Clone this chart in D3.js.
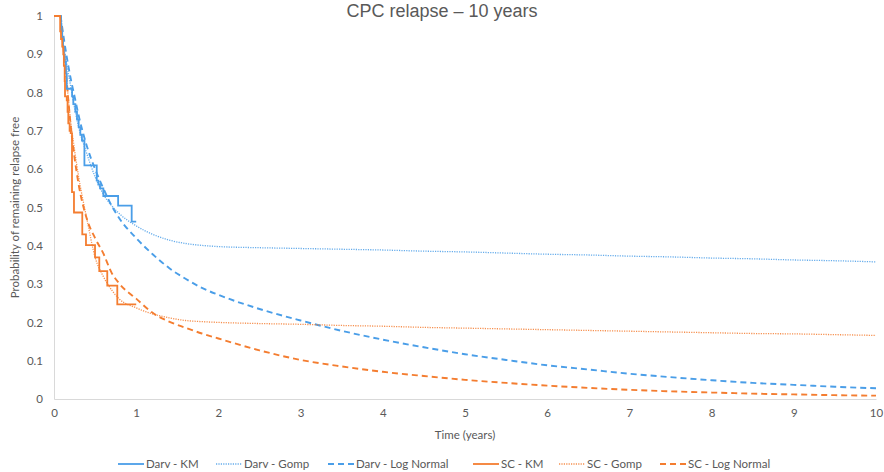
<!DOCTYPE html>
<html>
<head>
<meta charset="utf-8">
<script src="https://cdn.jsdelivr.net/npm/d3@7"></script>
<style>
  body { margin: 0; background: #fff; }
  svg { display: block; }
</style>
</head>
<body>
<div id="chart"></div>
<script>
// Kaplan-Meier steps (time in years, survival after the step)
const darvKmTime = [0.0, 0.085, 0.09, 0.10, 0.11, 0.12, 0.13, 0.145, 0.155, 0.22, 0.235, 0.26, 0.28, 0.30, 0.32, 0.34, 0.37, 0.52, 0.54, 0.56, 0.60, 0.78, 0.945, 1.0];
const darvKmSurv = [1.0, 0.98, 0.96, 0.94, 0.92, 0.90, 0.88, 0.85, 0.81, 0.79, 0.77, 0.75, 0.73, 0.71, 0.69, 0.675, 0.61, 0.57, 0.56, 0.55, 0.53, 0.505, 0.463, 0.463];
const scKmTime = [0.0, 0.075, 0.085, 0.10, 0.113, 0.12, 0.13, 0.134, 0.155, 0.165, 0.174, 0.19, 0.203, 0.219, 0.243, 0.344, 0.389, 0.499, 0.551, 0.648, 0.77, 1.0];
const scKmSurv = [1.0, 0.96, 0.94, 0.92, 0.90, 0.87, 0.83, 0.79, 0.78, 0.75, 0.72, 0.70, 0.694, 0.54, 0.487, 0.43, 0.402, 0.37, 0.334, 0.296, 0.247, 0.247];

// Fitted curves
const fitTime = [0.08, 0.1, 0.15, 0.2, 0.25, 0.3, 0.4, 0.5, 0.6, 0.7, 0.8, 1.0, 1.2, 1.4, 1.6, 1.8, 2.0, 2.5, 3.0, 3.5, 4.0, 4.5, 5.0, 5.5, 6.0, 6.5, 7.0, 7.5, 8.0, 8.5, 9.0, 9.5, 10.0];
const darvGomp = [1.0, 0.95, 0.88, 0.82, 0.76, 0.71, 0.64, 0.58, 0.535, 0.505, 0.483, 0.452, 0.43, 0.415, 0.406, 0.401, 0.398, 0.395, 0.393, 0.391, 0.389, 0.386, 0.384, 0.381, 0.378, 0.376, 0.373, 0.371, 0.368, 0.366, 0.363, 0.361, 0.358];
const darvLogN = [1.0, 0.97, 0.90, 0.84, 0.79, 0.74, 0.66, 0.60, 0.55, 0.505, 0.47, 0.42, 0.378, 0.342, 0.314, 0.29, 0.272, 0.235, 0.205, 0.178, 0.155, 0.135, 0.117, 0.102, 0.088, 0.077, 0.066, 0.057, 0.049, 0.042, 0.037, 0.032, 0.028];
const scGomp = [1.0, 0.95, 0.84, 0.73, 0.65, 0.58, 0.47, 0.37, 0.32, 0.285, 0.26, 0.238, 0.222, 0.212, 0.205, 0.202, 0.200, 0.197, 0.195, 0.192, 0.190, 0.187, 0.185, 0.183, 0.181, 0.179, 0.177, 0.175, 0.173, 0.171, 0.170, 0.168, 0.166];
const scLogN = [1.0, 0.95, 0.84, 0.72, 0.63, 0.56, 0.47, 0.42, 0.38, 0.33, 0.30, 0.262, 0.225, 0.202, 0.186, 0.171, 0.158, 0.127, 0.102, 0.085, 0.071, 0.060, 0.050, 0.042, 0.035, 0.029, 0.024, 0.020, 0.017, 0.014, 0.012, 0.010, 0.0087];

const xTicks = [0, 1, 2, 3, 4, 5, 6, 7, 8, 9, 10];
const yTicks = [0, 0.1, 0.2, 0.3, 0.4, 0.5, 0.6, 0.7, 0.8, 0.9, 1];
const seriesNames = ['Darv - KM', 'Darv - Gomp', 'Darv - Log Normal', 'SC - KM', 'SC - Gomp', 'SC - Log Normal'];

const BLUE = '#4a9ee8';
const ORANGE = '#f47d30';
const TEXT = '#595959';
const FONT = 'Lato, "Liberation Sans", sans-serif';
const FS = '11.5px';

const W = 884, H = 472;
const margin = { top: 16, right: 8, bottom: 73, left: 54 };

const svg = d3.select('#chart').append('svg')
    .attr('width', W)
    .attr('height', H);

const x = d3.scaleLinear().domain([0, 10]).range([margin.left, W - margin.right]);
const y = d3.scaleLinear().domain([0, 1]).range([H - margin.bottom, margin.top]);

// Title
svg.append('text')
    .attr('x', 442)
    .attr('y', 17)
    .attr('text-anchor', 'middle')
    .attr('font-family', 'Arial, "Liberation Sans", sans-serif')
    .attr('font-size', '18px')
    .attr('fill', TEXT)
    .text('CPC relapse – 10 years');

// Axes
const xAxis = svg.append('g')
    .attr('transform', `translate(0,${y(0)})`)
    .call(d3.axisBottom(x).tickValues(xTicks).tickSize(0).tickPadding(10).tickFormat(d3.format('d')));
const yAxis = svg.append('g')
    .attr('transform', `translate(${x(0)},0)`)
    .call(d3.axisLeft(y).tickValues(yTicks).tickSize(0).tickPadding(11).tickFormat(d => d === 0 || d === 1 ? d3.format('d')(d) : d3.format('.1f')(d)));

[xAxis, yAxis].forEach(a => {
    a.select('.domain').attr('stroke', '#d9d9d9').attr('stroke-width', 1);
    a.selectAll('text')
        .attr('font-family', FONT)
        .attr('font-size', FS)
        .attr('fill', TEXT);
});

// Axis titles
svg.append('text')
    .attr('x', (x(0) + x(10)) / 2)
    .attr('y', 439)
    .attr('text-anchor', 'middle')
    .attr('font-family', FONT)
    .attr('font-size', FS)
    .attr('fill', TEXT)
    .text('Time (years)');

svg.append('text')
    .attr('transform', `translate(19,${(y(0) + y(1)) / 2}) rotate(-90)`)
    .attr('text-anchor', 'middle')
    .attr('font-family', FONT)
    .attr('font-size', FS)
    .attr('fill', TEXT)
    .text('Probability of remaining relapse free');

// Line generators
const stepLine = d3.line().x(d => x(d[0])).y(d => y(d[1])).curve(d3.curveStepAfter);
const smoothLine = d3.line().x(d => x(d[0])).y(d => y(d[1])).curve(d3.curveMonotoneX);

const styles = [
    { color: BLUE, width: 1.8, dash: null },
    { color: BLUE, width: 1.3, dash: '1.2,1.2', opacity: 0.85 },
    { color: BLUE, width: 1.9, dash: '6,4' },
    { color: ORANGE, width: 1.8, dash: null },
    { color: ORANGE, width: 1.3, dash: '1.2,1.2', opacity: 0.85 },
    { color: ORANGE, width: 1.9, dash: '6,4' }
];

const fits = [
    { data: d3.zip(fitTime, darvGomp), style: styles[1] },
    { data: d3.zip(fitTime, darvLogN), style: styles[2] },
    { data: d3.zip(fitTime, scGomp), style: styles[4] },
    { data: d3.zip(fitTime, scLogN), style: styles[5] }
];

fits.forEach(f => {
    svg.append('path')
        .attr('d', smoothLine(f.data))
        .attr('fill', 'none')
        .attr('stroke', f.style.color)
        .attr('stroke-width', f.style.width)
        .attr('stroke-dasharray', f.style.dash)
        .attr('opacity', f.style.opacity || 1);
});

[
    { data: d3.zip(darvKmTime, darvKmSurv), style: styles[0] },
    { data: d3.zip(scKmTime, scKmSurv), style: styles[3] }
].forEach(k => {
    svg.append('path')
        .attr('d', stepLine(k.data))
        .attr('fill', 'none')
        .attr('stroke', k.style.color)
        .attr('stroke-width', k.style.width);
});

// Legend
const legendX = [118, 216, 328, 473, 559, 660];
const legend = svg.append('g').attr('transform', 'translate(0,464)');
seriesNames.forEach((name, i) => {
    const s = styles[i];
    legend.append('line')
        .attr('x1', legendX[i]).attr('x2', legendX[i] + 26)
        .attr('y1', 0).attr('y2', 0)
        .attr('stroke', s.color)
        .attr('stroke-width', s.width)
        .attr('stroke-dasharray', s.dash)
        .attr('opacity', s.opacity || 1);
    legend.append('text')
        .attr('x', legendX[i] + 28)
        .attr('y', 4)
        .attr('font-family', FONT)
        .attr('font-size', FS)
        .attr('fill', TEXT)
        .text(name);
});
</script>
</body>
</html>
